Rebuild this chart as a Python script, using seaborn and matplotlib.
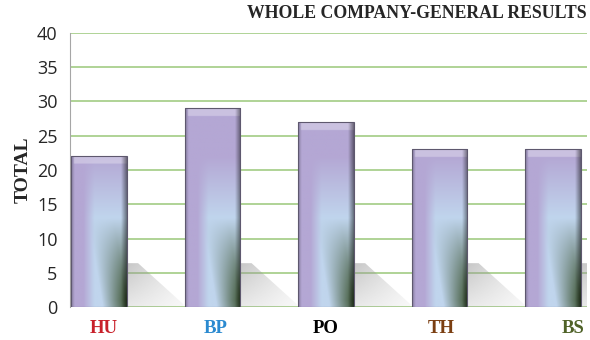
import numpy as np
import pandas as pd
import matplotlib
matplotlib.use("Agg")
import matplotlib.pyplot as plt
import matplotlib.transforms as mtransforms
import seaborn as sns
from matplotlib.patches import Polygon

# chart data
units = ["HU", "BP", "PO", "TH", "BS"]
totals = [22, 29, 27, 23, 23]
label_colors = ["#c8202a", "#2b8ad0", "#000000", "#7b3f12", "#4f6228"]
y_ticks = [0, 5, 10, 15, 20, 25, 30, 35, 40]
title = "WHOLE COMPANY-GENERAL RESULTS"

sns.set_style("white")
plt.rcParams["font.family"] = ["Open Sans", "DejaVu Sans"]

df = pd.DataFrame({"unit": units, "total": totals})

fig = plt.figure(figsize=(5.9, 3.4), dpi=100)
ax = fig.add_axes([0.1186, 0.097, 0.8764, 0.806])
sns.barplot(data=df, x="unit", y="total", order=units, color="#b4a7d6",
            width=0.49, ax=ax)

ax.set_ylim(0, 40)
ax.set_xlim(-0.255, 4.30)
ax.set_yticks(y_ticks)
ax.yaxis.grid(True, color="#a9d08e", linewidth=1.3)
ax.set_axisbelow(True)
for s in ["top", "right", "bottom"]:
    ax.spines[s].set_visible(False)
ax.spines["left"].set_color("#a6a6a6")
ax.tick_params(axis="y", length=5, color="#a6a6a6", labelsize=13, pad=4)
ax.tick_params(axis="x", length=0, pad=9)

ax.set_xlabel("")
ax.set_ylabel("TOTAL", family=["Liberation Serif"], fontweight="bold",
              fontsize=14, labelpad=4)

# label offsets (pixels) - the original labels sit a bit right of the bars
label_shift = [5, 3, 0, 2, 20]
for lab, c, dx in zip(ax.get_xticklabels(), label_colors, label_shift):
    lab.set_color(c)
    lab.set_family(["Liberation Serif"])
    lab.set_fontweight("bold")
    lab.set_fontsize(13.5)
    lab.set_transform(lab.get_transform() +
                      mtransforms.ScaledTranslation(dx / 100, 0, fig.dpi_scale_trans))

ax.text(1.0, 1.04, title, transform=ax.transAxes, ha="right", va="bottom",
        family=["Liberation Serif"], fontweight="bold", fontsize=12.8)

# gradient fill for the bars
purple = np.array([180, 167, 212]) / 255
blue = np.array([192, 213, 237]) / 255
green = np.array([58, 82, 48]) / 255


def bar_image(height, nx=60, ny=300):
    ys = np.linspace(height, 0, ny)[:, None]
    xr = np.linspace(0, 1, nx)[None, :]
    wb = np.clip((22 - ys) / 9, 0, 1) * np.clip((xr - 0.22) / 0.2, 0, 1)
    wg = np.clip((13 - ys) / 12, 0, 1) * np.clip((xr - 0.45 + (ys - 6) * 0.02) / 0.45, 0, 1)
    img = purple * (1 - wb[..., None]) + blue * wb[..., None]
    img = img * (1 - wg[..., None]) + green * wg[..., None]
    # bevel: light top band, dark right edge
    top = (height - ys) < 1.1
    img = np.where(top[..., None] & (xr[..., None] > 0.04), img * 0.7 + 0.3, img)
    img = img * (1 - 0.45 * np.clip((xr[..., None] - 0.9) / 0.1, 0, 1))
    img = img * (1 - 0.25 * np.clip((xr[..., None] - 0.0) * -1 + 0.06, 0, 1) / 0.06)
    return np.clip(img, 0, 1)


for patch in ax.patches:
    x0 = patch.get_x()
    w = patch.get_width()
    h = patch.get_height()
    patch.set_facecolor("none")
    patch.set_edgecolor("#5e586e")
    patch.set_linewidth(0.8)
    patch.set_zorder(3)
    # soft grey shadow to the right
    r = x0 + w
    shadow_poly = Polygon([(r, 0), (r, 6.4), (r + 0.1, 6.4), (r + 0.5, 0.4), (r + 0.5, 0)],
                          closed=True, facecolor="none", edgecolor="none")
    ax.add_patch(shadow_poly)
    sx = np.linspace(0, 1, 50)[None, :]
    sy = np.linspace(1, 0, 50)[:, None]
    alpha = 0.55 * (1 - sx * 0.7) * (0.4 + 0.6 * sy)
    simg = np.zeros((50, 50, 4))
    simg[..., :3] = 0.6
    simg[..., 3] = alpha
    im = ax.imshow(simg, extent=(r, r + 0.5, 0, 6.4), aspect="auto", zorder=1.5,
                   interpolation="bilinear")
    im.set_clip_path(shadow_poly)
    # bar body
    im = ax.imshow(bar_image(h), extent=(x0, r, 0, h), aspect="auto", zorder=2,
                   interpolation="bilinear")
    im.set_clip_path(patch)

ax.set_xlim(-0.255, 4.30)
ax.set_ylim(0, 40)

fig.savefig("out.png", dpi=100)
